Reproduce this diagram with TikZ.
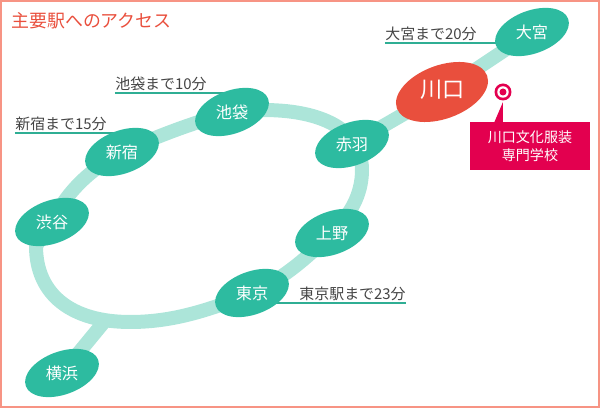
\documentclass[tikz,border=0pt]{standalone}
\usepackage{fontspec}
\setmainfont{Noto Sans CJK JP}
\usetikzlibrary{backgrounds, shapes.geometric}
\definecolor{stationgreen}{HTML}{2DBBA0}
\definecolor{linegreen}{HTML}{ACE5D9}
\definecolor{leadergreen}{HTML}{2FAE94}
\definecolor{hometown}{HTML}{E94F3D}
\definecolor{framesalmon}{HTML}{F79484}
\definecolor{schoolred}{HTML}{E3004F}
\definecolor{labelgray}{HTML}{444444}
\tikzset{
  station/.style={draw=none, fill=stationgreen, ellipse, rotate=20, inner sep=0, minimum width=1.54cm, minimum height=.86cm},
  stationtext/.style={text=white, font=\fontsize{9.2}{11}\selectfont, inner sep=0},
  track/.style={draw=linegreen, line width=.28cm},
  timelabel/.style={text=labelgray, font=\fontsize{8.5}{10}\selectfont, inner sep=0, anchor=south west, minimum height=.34cm},
  leader/.style={draw=leadergreen, line width=.022cm}
}
\begin{document}
\begin{tikzpicture}[x=.02cm, y=-.02cm]
  \useasboundingbox (0,0) rectangle (600,408);

  \node[anchor=west, inner sep=0, text=hometown, font=\fontsize{10.2}{12}\selectfont] (title) at (11,21) {主要駅へのアクセス};

  \foreach \name/\txt/\x/\y in {omiya/大宮/532/32, akabane/赤羽/352/144, ikebukuro/池袋/232/112, shinjuku/新宿/122/152, shibuya/渋谷/52/222, yokohama/横浜/62/373, tokyo/東京/252/293, ueno/上野/332/233} {
	\node[station] (\name) at (\x,\y) {};
	\node[stationtext] (t\name) at (\x,\y) {\txt};
  }
  \node[station, fill=hometown, minimum width=1.92cm, minimum height=1.07cm] (kawaguchi) at (442,92) {};
  \node[stationtext, font=\fontsize{12.6}{14}\selectfont] (tkawaguchi) at (443,90) {川口};

  % time labels
  \node[timelabel] (lomiya) at (385,43) {大宮まで20分};
  \node[timelabel] (likebukuro) at (115,93) {池袋まで10分};
  \node[timelabel] (lshinjuku) at (15,133) {新宿まで15分};
  \node[timelabel, anchor=south east] (ltokyo) at (406,303) {東京駅まで23分};

  % school
  \node[fill=schoolred, text=white, align=center, inner sep=0, minimum width=2.4cm, minimum height=.96cm, font=\fontsize{8}{10.4}\selectfont] (school) at (530,146) {川口文化服装\\専門学校};
  \node[circle, fill=schoolred, inner sep=0, minimum size=.34cm] (marker) at (503,92) {};
  \node[circle, fill=white, inner sep=0, minimum size=.23cm] (markerring) at (503,92) {};
  \node[circle, fill=schoolred, inner sep=0, minimum size=.14cm] (markerdot) at (503,92) {};
  \coordinate (tip) at (503,102);
  \coordinate (footr) at (503,123);
  \coordinate (footl) at (494,123);
  \fill[schoolred] (tip) -- (footr) -- (footl) -- cycle;

  \begin{scope}[on background layer]
	\draw[framesalmon, line width=.035cm] (.8,.8) rectangle (599.2,407.2);
	\coordinate (branch) at (104,322);
	\path[track] (omiya.center) -- (kawaguchi.center) -- (akabane.center);
	\path[track] (yokohama.center) -- (branch);
	\path[track] (ikebukuro.center) .. controls (300,104) and (362,120) .. (362,170) .. controls (362,195) and (350,215) .. (ueno.center);
	\path[track] (ueno.center) .. controls (310,255) and (285,278) .. (tokyo.center);
	\path[track] (tokyo.center) .. controls (205,312) and (170,322) .. (130,322) .. controls (72,322) and (36,295) .. (36,246) -- (shibuya.center);
	\path[track] (shibuya.center) .. controls (68,190) and (90,170) .. (shinjuku.center);
	\path[track] (shinjuku.center) .. controls (160,135) and (195,122) .. (ikebukuro.center);

	\path[leader] (lomiya.south west) -- (lomiya.south west -| omiya);
	\path[leader] (likebukuro.south west) -- (likebukuro.south west -| ikebukuro);
	\path[leader] (lshinjuku.south west) -- (lshinjuku.south west -| shinjuku);
	\path[leader] (ltokyo.south east) -- (ltokyo.south east -| tokyo);
  \end{scope}
\end{tikzpicture}
\end{document}
